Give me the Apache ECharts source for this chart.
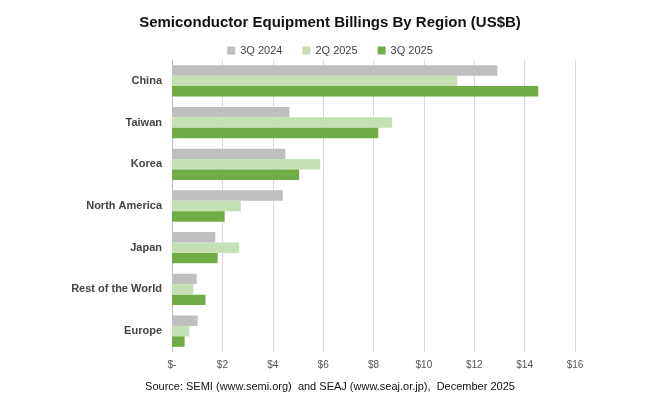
<!DOCTYPE html><html><head><meta charset="utf-8"><script src="https://cdn.jsdelivr.net/npm/echarts@6/dist/echarts.min.js"></script></head><body style="margin:0"><div id="c" style="width:660px;height:406px"></div><script>
const categories=['China','Taiwan','Korea','North America','Japan','Rest of the World','Europe'];
const s3Q2024=[12.92,4.66,4.50,4.40,1.72,0.98,1.02];
const s2Q2025=[11.33,8.74,5.88,2.73,2.67,0.85,0.69];
const s3Q2025=[14.54,8.19,5.05,2.09,1.81,1.33,0.50];
const tickLabels=['$-','$2','$4','$6','$8','$10','$12','$14','$16'];
const c=echarts.init(document.getElementById('c'));
const ser=(n,d,col)=>({name:n,type:'bar',data:d,itemStyle:{color:col},barGap:'0%',barCategoryGap:'25%'});
c.setOption({animation:false,textStyle:{fontFamily:'Liberation Sans, Arial'},
title:{text:'Semiconductor Equipment Billings By Region (US$B)',left:'center',top:10,textStyle:{fontSize:15,fontWeight:'bold',color:'#111'}},
legend:{top:40,left:'center',itemWidth:8,itemHeight:8,itemGap:20,icon:'rect',textStyle:{fontSize:11,color:'#444'}},
grid:{left:172,right:85,top:60,bottom:54},
xAxis:{type:'value',min:0,max:16,interval:2,axisLabel:{formatter:v=>tickLabels[v/2],color:'#555',fontSize:10},splitLine:{lineStyle:{color:'#d9d9d9'}}},
yAxis:{type:'category',inverse:true,data:categories,axisTick:{show:false},axisLine:{lineStyle:{color:'#bbb'}},axisLabel:{color:'#444',fontSize:11,fontWeight:'bold',margin:10}},
series:[ser('3Q 2024',s3Q2024,'#bfbfbf'),ser('2Q 2025',s2Q2025,'#c5e0b4'),ser('3Q 2025',s3Q2025,'#70ad47')],
graphic:[{type:'text',left:'center',top:381,style:{text:'Source: SEMI (www.semi.org)  and SEAJ (www.seaj.or.jp),  December 2025',fontSize:11,fill:'#111',fontFamily:'Liberation Sans, Arial'}}]
});
</script></body></html>
